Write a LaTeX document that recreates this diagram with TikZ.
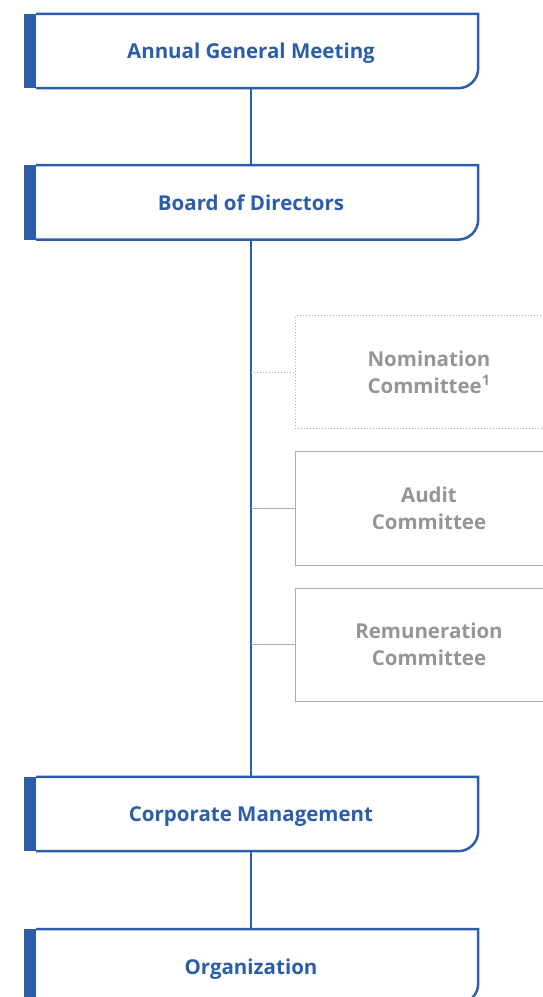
\documentclass[tikz,border=0pt]{standalone}
\usepackage{fontspec}
\setmainfont[Ligatures=NoCommon]{Open Sans}
\usetikzlibrary{positioning}
\usepackage{xcolor}

\definecolor{orgblue}{HTML}{2B5DAA}
\definecolor{comgray}{HTML}{939598}
\definecolor{linegray}{HTML}{ABADB0}

\tikzset{
  mainbox/.style={minimum width=454pt, minimum height=74pt, inner sep=0pt,
    text depth=0pt, text=orgblue, font=\fontsize{20.5}{24}\selectfont\bfseries},
  combox/.style={minimum width=266pt, minimum height=113pt, inner sep=0pt,
    text=comgray, align=center, font=\fontsize{20.5}{27}\selectfont\bfseries},
  link/.style={orgblue, line width=2.5pt},
  twig/.style={linegray, line width=1pt},
}

\begin{document}
\begin{tikzpicture}[x=1pt,y=1pt]

\useasboundingbox (0,0) rectangle (542,-997);

% main chain
\node[mainbox] (agm) at (251,-51) {Annual General Meeting};
\node[mainbox, below=77pt of agm] (board) {Board of Directors};
\node[mainbox] (mgmt) at (251,-814) {Corporate Management};
\node[mainbox, below=78pt of mgmt] (org) {Organization};

\foreach \n in {agm,board,mgmt,org}{
  \fill[orgblue] (\n.north west) rectangle ([xshift=12pt]\n.south west);
  \draw[orgblue, line width=2.5pt] ([xshift=12pt]\n.north west) -- (\n.north east)
    -- ([yshift=20pt]\n.south east) arc[start angle=0, end angle=-90, radius=20pt]
    -- ([xshift=12pt]\n.south west);
}

% committees
\node[combox] (nomination) at (429,-372) {Nomination\\Committee\textsuperscript{1}};
\node[combox, below=23pt of nomination] (audit) {Audit\\Committee};
\node[combox, below=23pt of audit] (remuneration) {Remuneration\\Committee};

\draw[twig, dash pattern=on 1pt off 2pt] (nomination.south east) rectangle (nomination.north west);
\draw[twig] (audit.south east) rectangle (audit.north west);
\draw[twig] (remuneration.south east) rectangle (remuneration.north west);

% connectors
\draw[link] (agm) -- (board);
\draw[link] (board) -- (mgmt);
\draw[link] (mgmt) -- (org);

\draw[twig, dash pattern=on 1pt off 2pt] (nomination.west -| board.south) -- (nomination.west);
\draw[twig] (audit.west -| board.south) -- (audit.west);
\draw[twig] (remuneration.west -| board.south) -- (remuneration.west);

\end{tikzpicture}
\end{document}
